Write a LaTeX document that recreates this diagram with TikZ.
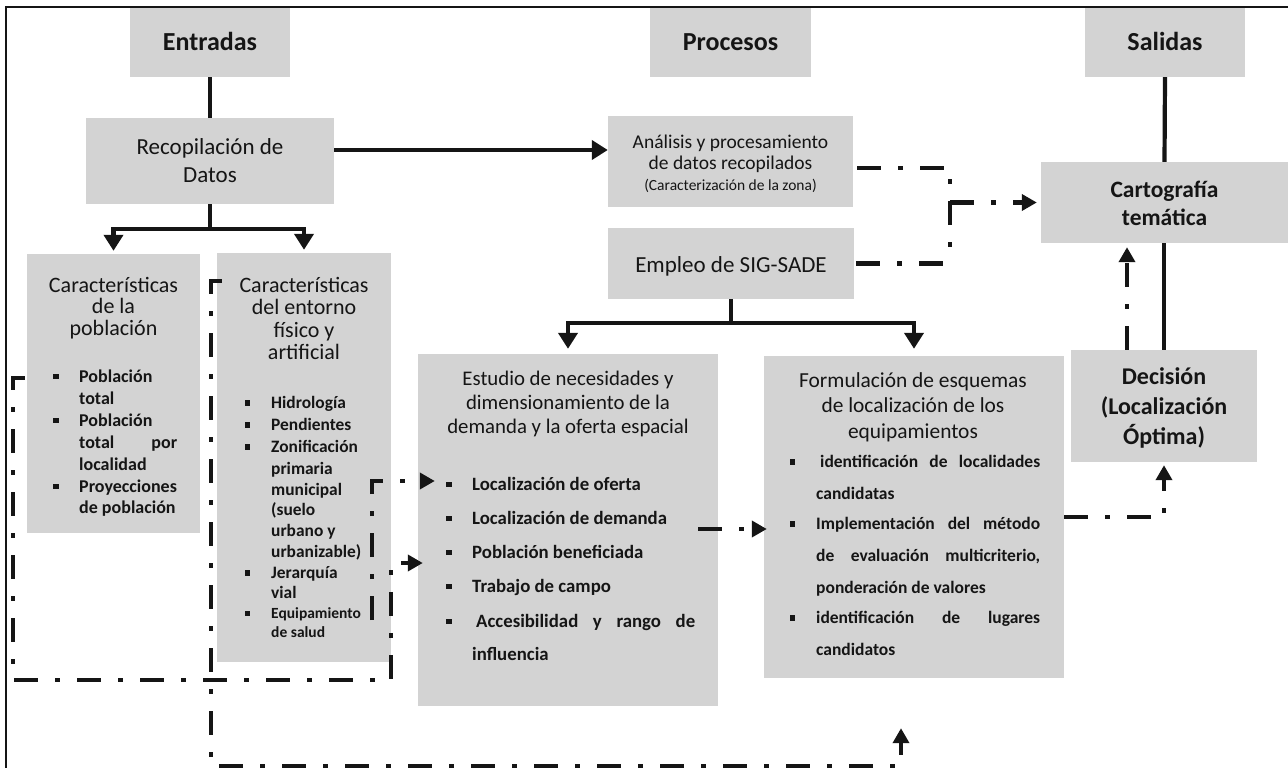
\documentclass[tikz,border=0pt]{standalone}
\usepackage{fontspec}
\setmainfont{Carlito}
\usetikzlibrary{arrows.meta}
\definecolor{boxgray}{HTML}{D3D3D3}
\definecolor{ink}{HTML}{151515}
\newcommand\bsq{\rule[0.17em]{0.3em}{0.3em}}
\newcommand\bi[1]{\makebox[26pt][l]{\bsq}#1}
\newcommand\bc[1]{\makebox[26pt][l]{}#1}
\newcommand\js[2]{\makebox[#1][s]{#2}}
\newcommand\fTop{\fontsize{26}{30}\selectfont\bfseries}
\newcommand\fRec{\fontsize{23}{27}\selectfont}
\newcommand\fAna{\fontsize{19.5}{22}\selectfont}
\newcommand\fZona{\fontsize{15.5}{18}\selectfont}
\newcommand\fEmp{\fontsize{23}{26}\selectfont}
\newcommand\fCar{\fontsize{23.5}{27}\selectfont\bfseries}
\newcommand\fDec{\fontsize{24}{28}\selectfont\bfseries}
\newcommand\fTit{\fontsize{22}{26}\selectfont}
\newcommand\fPob{\fontsize{18}{21}\selectfont\bfseries}
\newcommand\fAmb{\fontsize{17.4}{20}\selectfont\bfseries}
\newcommand\fEq{\fontsize{15.5}{18}\selectfont\bfseries}
\newcommand\fEstT{\fontsize{20.8}{24}\selectfont}
\newcommand\fEst{\fontsize{18.8}{22}\selectfont\bfseries}
\newcommand\fFrmT{\fontsize{21.4}{25}\selectfont}
\newcommand\fFrm{\fontsize{17.5}{20}\selectfont\bfseries}
\begin{document}
\begin{tikzpicture}[x=1pt,y=-1pt,
  box/.style={fill=boxgray,draw=none,inner sep=0pt},
  lbl/.style={inner sep=0pt,text=ink,anchor=base},
  li/.style={inner sep=0pt,text=ink,anchor=base west},
  solidln/.style={line width=4.2pt,draw=ink},
  sarrow/.style={solidln,-{Triangle[length=16pt,width=19pt]}},
  ddln/.style={line width=4.5pt,draw=ink,dash pattern=on 24pt off 17pt on 5pt off 17pt},
  ddarrow/.style={ddln,-{Triangle[length=15pt,width=16pt]}}]
\useasboundingbox (0,0) rectangle (1288,768);
% frame
\draw[line width=2pt,draw=ink] (1288,7) -- (6,7) -- (6,768);
% boxes
\node[box,minimum width=160pt,minimum height=69pt] (ent) at (210,42.5) {};
\node[box,minimum width=161pt,minimum height=69pt] (pro) at (730.5,42.5) {};
\node[box,minimum width=160pt,minimum height=69pt] (sal) at (1165,42.5) {};
\node[box,minimum width=248pt,minimum height=86pt] (rec) at (210,161) {};
\node[box,minimum width=245pt,minimum height=91pt] (ana) at (730.5,161.5) {};
\node[box,minimum width=246pt,minimum height=71pt] (emp) at (731,263.5) {};
\node[box,minimum width=247pt,minimum height=81pt] (car) at (1164.5,202.5) {};
\node[box,minimum width=186pt,minimum height=112pt] (dec) at (1164,406) {};
\node[box,minimum width=173pt,minimum height=279pt] (pob) at (113.5,393.5) {};
\node[box,minimum width=174pt,minimum height=409pt] (amb) at (304,457.5) {};
\node[box,minimum width=300pt,minimum height=352pt] (est) at (568,530) {};
\node[box,minimum width=300pt,minimum height=322pt] (frm) at (914,517) {};
% titles
\node[lbl,font=\fTop] (tEnt) at (210,51) {Entradas};
\node[lbl,font=\fTop] (tPro) at (730.5,51) {Procesos};
\node[lbl,font=\fTop] (tSal) at (1165,51) {Salidas};
\node[lbl,font=\fRec] (tRec1) at (210,154.5) {Recopilación de};
\node[lbl,font=\fRec] (tRec2) at (210,182.5) {Datos};
\node[lbl,font=\fAna] (tAna1) at (730.5,148) {Análisis y procesamiento};
\node[lbl,font=\fAna] (tAna2) at (730.5,169) {de datos recopilados};
\node[lbl,font=\fZona] (tAna3) at (730.5,190.5) {(Caracterización de la zona)};
\node[lbl,font=\fEmp] (tEmp) at (731,272) {Empleo de SIG-SADE};
\node[lbl,font=\fCar] (tCar1) at (1164.5,197) {Cartografía};
\node[lbl,font=\fCar] (tCar2) at (1164.5,225) {temática};
\node[lbl,font=\fDec] (tDec1) at (1164,384) {Decisión};
\node[lbl,font=\fDec] (tDec2) at (1164,414) {(Localización};
\node[lbl,font=\fDec] (tDec3) at (1164,444) {Óptima)};
\node[lbl,font=\fTit] (tPob1) at (113.5,292) {Características};
\node[lbl,font=\fTit] (tPob2) at (113.5,313) {de la};
\node[lbl,font=\fTit] (tPob3) at (113.5,335) {población};
\node[lbl,font=\fTit] (tAmb1) at (304,292) {Características};
\node[lbl,font=\fTit] (tAmb2) at (304,314) {del entorno};
\node[lbl,font=\fTit] (tAmb3) at (304,337) {físico y};
\node[lbl,font=\fTit] (tAmb4) at (304,359) {artificial};
\node[lbl,font=\fEstT] (tEst1) at (568,385.5) {Estudio de necesidades y};
\node[lbl,font=\fEstT] (tEst2) at (568,409.5) {dimensionamiento de la};
\node[lbl,font=\fEstT] (tEst3) at (568,433.5) {demanda y la oferta espacial};
\node[lbl,font=\fFrmT] (tFrm1) at (913,387.5) {Formulación de esquemas};
\node[lbl,font=\fFrmT] (tFrm2) at (913,412.5) {de localización de los};
\node[lbl,font=\fFrmT] (tFrm3) at (913,438.5) {equipamientos};
% lists
\foreach \tx/\yy [count=\i] in {{\bi{Población}}/382.5,{\bc{total}}/404.5,{\bi{Población}}/426.5,
  {\bc{\js{98pt}{total por}}}/448.5,{\bc{localidad}}/470.5,{\bi{Proyecciones}}/492.5,{\bc{de población}}/513.5}
  {\node[li,font=\fPob] (pl\i) at (53,\yy) {\tx};}
\foreach \tx/\yy [count=\i] in {{\bi{Hidrología}}/408.5,{\bi{Pendientes}}/430.5,{\bi{Zonificación}}/452.5,
  {\bc{primaria}}/474.5,{\bc{municipal}}/495.5,{\bc{(suelo}}/515.5,{\bc{urbano y}}/536.5,
  {\bc{urbanizable)}}/557.5,{\bi{Jerarquía}}/578.5,{\bc{vial}}/598.5}
  {\node[li,font=\fAmb] (al\i) at (245,\yy) {\tx};}
\node[li,font=\fEq] (al11) at (245,618.5) {\bi{Equipamiento}};
\node[li,font=\fEq] (al12) at (245,637.5) {\bc{de salud}};
\foreach \tx/\yy [count=\i] in {{\bi{Localización de oferta}}/490.5,{\bi{Localización de demanda}}/524.5,
  {\bi{Población beneficiada}}/558.5,{\bi{Trabajo de campo}}/592.5,
  {\bi{\js{223pt}{\hspace{4pt}Accesibilidad y rango de}}}/627.5,{\bc{influencia}}/660.5}
  {\node[li,font=\fEst] (el\i) at (446,\yy) {\tx};}
\foreach \tx/\yy [count=\i] in {{\bi{\js{224pt}{\hspace{4pt}identificación de localidades}}}/467.5,
  {\bc{candidatas}}/499.5,{\bi{\js{224pt}{Implementación del método}}}/529.5,
  {\bc{\js{224pt}{de evaluación multicriterio,}}}/561.5,{\bc{ponderación de valores}}/593.5,
  {\bi{\js{224pt}{identificación de lugares}}}/623.5,{\bc{candidatos}}/655.5}
  {\node[li,font=\fFrm] (fl\i) at (790,\yy) {\tx};}
% solid connectors
\draw[solidln] (ent.south) -- (rec.north);
\draw[sarrow] ([yshift=11pt]rec.east) -- ([yshift=11.5pt]ana.west);
\draw[sarrow,shorten >=3pt] (rec.south) -- ++(0,25) -| (pob.north);
\draw[sarrow,shorten >=3pt] (rec.south) -- ++(0,25) -| (amb.north);
\draw[sarrow,shorten >=5pt] (emp.south) -- ++(0,24) -| (est.north);
\draw[sarrow,shorten >=7pt] (emp.south) -- ++(0,24) -| (frm.north);
\draw[solidln] (sal.south) -- (car.north);
\draw[solidln] ([xshift=-0.5pt]car.south) -- (dec.north);
% dash-dot connectors
\coordinate (jn) at (950,263.5);
\draw[ddln] ([xshift=4pt,yshift=-6.5pt]ana.east) -| (jn);
\draw[ddln] ([xshift=2pt]emp.east) -- (jn);
\draw[ddarrow] (jn |- car.west) -- ([xshift=-4pt]car.west);
\draw[ddarrow] ([xshift=-20pt,yshift=1pt]est.east) -- ([xshift=3pt,yshift=-12pt]frm.west);
\draw[ddarrow] (frm.east) -| ([yshift=-3pt]dec.south);
\draw[ddarrow] ([xshift=-37pt]dec.north) -- ([xshift=-37.5pt,yshift=-4pt]car.south);
\draw[ddarrow] ([xshift=-2pt,yshift=15.5pt]pob.west) -| (13,680) -| (391,563) -- ([xshift=5pt,yshift=-33pt]est.west);
\coordinate (c3) at (372,620);
\draw[ddarrow] (c3) -- (372,481) -- ([xshift=17pt,yshift=49pt]est.west);
\draw[ddarrow] ([xshift=5pt,yshift=176.5pt]amb.west) -| (211,766) -| ([xshift=-13pt,yshift=-50pt]frm.south);
\end{tikzpicture}
\end{document}
